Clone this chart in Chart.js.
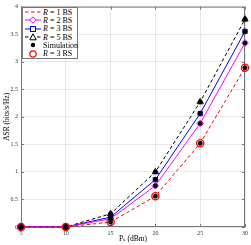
<!DOCTYPE html>
<html>
<head>
<meta charset="utf-8">
<script src="https://cdn.jsdelivr.net/npm/chart.js@4.4.0/dist/chart.umd.min.js"></script>
<style>
  html, body { margin: 0; padding: 0; background: #fff; }
  #wrap { position: relative; width: 251px; height: 245px; }
  #legend {
    position: absolute; left: 22px; top: 7px; width: 56px; height: 52px;
    box-sizing: border-box; border: 1px solid #777; background: #fff;
    font: 8px "Liberation Serif", "DejaVu Serif", serif; color: #000;
  }
  .row { display: flex; align-items: center; height: 8.33px; white-space: nowrap; }
  .row svg { width: 16px; height: 8px; margin-left: 2px; margin-right: 2px; flex: none; }
</style>
</head>
<body>
<div id="wrap">
  <canvas id="chart" width="251" height="245"></canvas>
  <div id="legend">
    <div class="row"><svg viewBox="0 0 16 8"><line x1="0" y1="4" x2="16" y2="4" stroke="#ff0000" stroke-width="1" stroke-dasharray="3.5,2.5"/></svg><span><i>R</i> = 1 BS</span></div>
    <div class="row"><svg viewBox="0 0 16 8"><line x1="0" y1="4" x2="16" y2="4" stroke="#ff00ff" stroke-width="1"/><polygon points="8,0.8 11.2,4 8,7.2 4.8,4" fill="#fff" stroke="#ff00ff" stroke-width="1"/></svg><span><i>R</i> = 2 BS</span></div>
    <div class="row"><svg viewBox="0 0 16 8"><line x1="0" y1="4" x2="16" y2="4" stroke="#0000ff" stroke-width="1"/><rect x="5.5" y="1.5" width="5" height="5" fill="#fff" stroke="#0000ff" stroke-width="1"/></svg><span><i>R</i> = 3 BS</span></div>
    <div class="row"><svg viewBox="0 0 16 8"><line x1="0" y1="4" x2="16" y2="4" stroke="#000" stroke-width="1" stroke-dasharray="3.5,2.5"/><polygon points="8,0.8 11.2,6.8 4.8,6.8" fill="#fff" stroke="#000" stroke-width="1"/></svg><span><i>R</i> = 5 BS</span></div>
    <div class="row"><svg viewBox="0 0 16 8"><circle cx="8" cy="4" r="2.2" fill="#000"/></svg><span>Simulation</span></div>
    <div class="row"><svg viewBox="0 0 16 8"><circle cx="8" cy="4" r="3.2" fill="none" stroke="#ff0000" stroke-width="1.2"/></svg><span><i>R</i> = 3 RS</span></div>
  </div>
</div>
<script>
const powerDbm = [5, 10, 15, 20, 25, 30];
const asrR1 = [0, 0, 0.09, 0.56, 1.52, 2.89];
const asrR2 = [0, 0, 0.15, 0.75, 1.88, 3.34];
const asrR3 = [0, 0, 0.18, 0.86, 2.06, 3.55];
const asrR5 = [0, 0, 0.24, 1.0, 2.27, 3.77];
const xTicks = [5, 10, 15, 20, 25, 30];
const yTicks = [0, 0.5, 1, 1.5, 2, 2.5, 3, 3.5, 4];

const toPoints = (ys) => ys.map((y, i) => ({ x: powerDbm[i], y: y }));
const simPoints = [asrR1, asrR2, asrR3, asrR5].flatMap(toPoints);

const axisColor = "#777";
const serif = "'Liberation Serif', 'DejaVu Serif', serif";
const font = { family: serif, size: 6 };

// MATLAB-like box with inward ticks on all sides
const frame = {
  id: "frame",
  beforeDatasetsDraw(chart) {
    const { ctx, chartArea: a, scales } = chart;
    ctx.save();
    ctx.strokeStyle = axisColor;
    ctx.lineWidth = 1;
    ctx.strokeRect(a.left + 0.5, a.top + 0.5, a.right - a.left - 1, a.bottom - a.top - 1);
    ctx.beginPath();
    xTicks.forEach((v) => {
      const px = Math.round(scales.x.getPixelForValue(v)) + 0.5;
      ctx.moveTo(px, a.bottom); ctx.lineTo(px, a.bottom - 3);
      ctx.moveTo(px, a.top); ctx.lineTo(px, a.top + 3);
    });
    yTicks.forEach((v) => {
      const py = Math.round(scales.y.getPixelForValue(v)) + 0.5;
      ctx.moveTo(a.left, py); ctx.lineTo(a.left + 3, py);
      ctx.moveTo(a.right, py); ctx.lineTo(a.right - 3, py);
    });
    ctx.stroke();
    ctx.restore();
  },
};

const ctx = document.getElementById("chart").getContext("2d");
new Chart(ctx, {
  type: "line",
  data: {
    datasets: [
      {
        label: "R = 1 BS", data: toPoints(asrR1), borderColor: "#ff0000", borderWidth: 1,
        borderDash: [3.5, 2.5], pointRadius: 0, order: 3,
      },
      {
        label: "R = 2 BS", data: toPoints(asrR2), borderColor: "#ff00ff", borderWidth: 1,
        pointStyle: "rectRot", pointRadius: 3.3, pointBackgroundColor: "#fff",
        pointBorderColor: "#ff00ff", pointBorderWidth: 1, order: 3,
      },
      {
        label: "R = 3 BS", data: toPoints(asrR3), borderColor: "#0000ff", borderWidth: 1,
        pointStyle: "rect", pointRadius: 3.1, pointBackgroundColor: "#fff",
        pointBorderColor: "#0000ff", pointBorderWidth: 1, order: 3,
      },
      {
        label: "R = 5 BS", data: toPoints(asrR5), borderColor: "#000", borderWidth: 1,
        borderDash: [3.5, 2.5], pointStyle: "triangle", pointRadius: 3.6, pointBackgroundColor: "#fff",
        pointBorderColor: "#000", pointBorderWidth: 1, order: 3,
      },
      {
        label: "Simulation", data: simPoints, showLine: false, pointStyle: "circle",
        pointRadius: 2.2, pointBackgroundColor: "#000", pointBorderColor: "#000",
        pointBorderWidth: 0.5, order: 0,
      },
      {
        label: "R = 3 RS", data: toPoints(asrR1), showLine: false, pointStyle: "circle",
        pointRadius: 3.6, pointBackgroundColor: "rgba(0,0,0,0)", pointBorderColor: "#ff0000",
        pointBorderWidth: 1.3, order: 1,
      },
    ],
  },
  options: {
    responsive: false,
    animation: false,
    devicePixelRatio: 1,
    clip: false,
    layout: { padding: { top: 4, right: 3, left: 0, bottom: 0 } },
    plugins: { legend: { display: false }, tooltip: { enabled: false } },
    scales: {
      x: {
        type: "linear", min: 5, max: 30,
        afterBuildTicks: (s) => { s.ticks = xTicks.map((v) => ({ value: v })); },
        afterFit: (s) => { s.height = 18; },
        grid: { color: "rgba(0,0,0,0.09)", drawTicks: false },
        border: { display: false },
        ticks: { font, color: "#333", padding: 3, maxRotation: 0, callback: (v) => String(v) },
        title: {
          display: true, text: "Pₛ (dBm)", color: "#000",
          font: { family: serif, size: 7.5 },
          padding: { top: 0, bottom: 1 },
        },
      },
      y: {
        type: "linear", min: 0, max: 4,
        afterBuildTicks: (s) => { s.ticks = yTicks.map((v) => ({ value: v })); },
        afterFit: (s) => { s.width = 21; },
        grid: { color: "rgba(0,0,0,0.09)", drawTicks: false },
        border: { display: false },
        ticks: { font, color: "#333", padding: 3, callback: (v) => String(v) },
        title: {
          display: true, text: "ASR (bits/s/Hz)", color: "#000",
          font: { family: serif, size: 7.5 },
          padding: { top: 3, bottom: 0 },
        },
      },
    },
  },
  plugins: [frame],
});
</script>
</body>
</html>
